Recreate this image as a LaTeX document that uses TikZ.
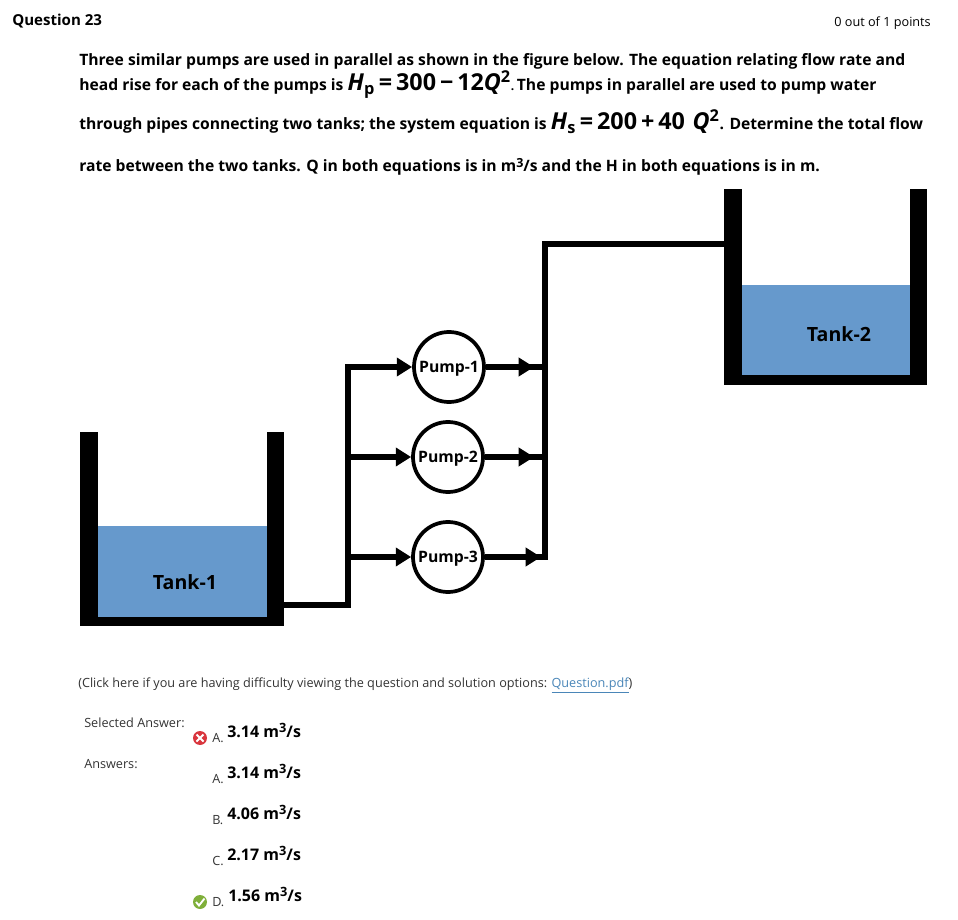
\documentclass[tikz,border=0pt]{standalone}
\usepackage{graphicx}
\usepackage{fontspec}
\setmainfont{Open Sans}
\usetikzlibrary{arrows.meta}
\definecolor{waterblue}{HTML}{6699CC}
\definecolor{linkblue}{HTML}{4A86B8}
\definecolor{wrongred}{HTML}{D9363E}
\definecolor{rightgreen}{HTML}{7FAF3A}
\definecolor{smalltext}{HTML}{333333}
\newcommand{\eqfont}{\fontsize{17.5pt}{19pt}\selectfont}
\newcommand{\cubed}{m\raisebox{0.55ex}{\scalebox{0.8}{3}}/s}
\tikzset{
  textline/.style={anchor=base west,inner sep=0pt,font=\fontsize{11.75pt}{14pt}\selectfont\bfseries},
  smallline/.style={anchor=base west,inner sep=0pt,text=smalltext,font=\fontsize{9.5pt}{11pt}\selectfont},
  optionline/.style={anchor=base west,inner sep=0pt,font=\fontsize{12pt}{14pt}\selectfont\bfseries},
  wall/.style={fill=black,draw=none},
  water/.style={fill=waterblue,draw=none},
  pipe/.style={line width=4.2pt,line cap=butt,line join=miter},
  flow/.style={pipe,-{Triangle[length=11.5pt,width=13.5pt]}},
  pump/.style={circle,draw,fill=white,line width=2.8pt,minimum size=52.5pt,inner sep=0pt,text depth=0pt,font=\fontsize{11.8pt}{13pt}\selectfont\bfseries},
  tanklabel/.style={inner sep=0pt,font=\fontsize{14.7pt}{16pt}\selectfont\bfseries},
  badge/.style={circle,minimum size=10.5pt,inner sep=0pt}
}
\begin{document}
\begin{tikzpicture}[x=0.75pt,y=-0.75pt]
\useasboundingbox (0,0) rectangle (958,920);
% header
\node[textline,font=\fontsize{11.3pt}{14pt}\selectfont\bfseries] (title) at (12,26) {Question 23};
\node[smallline,anchor=base east,text=black] (score) at (931,27) {0 out of 1 points};
% question text
\node[textline] (lineone) at (79,66) {Three similar pumps are used in parallel as shown in the figure below. The equation relating flow rate and};
\node[textline] (linetwo) at (79,91) {head rise for each of the pumps is {\eqfont\textit{H}\textsubscript{p}\,=\,300\,−\,12\textit{Q}\textsuperscript{2}}{\fontsize{9pt}{10pt}\selectfont.}\,The pumps in parallel are used to pump water};
\node[textline] (linethree) at (79,130) {through pipes connecting two tanks; the system equation is {\eqfont\textit{H}\textsubscript{s}\,=\,200\,+\,40\,\,\textit{Q}\textsuperscript{2}}. Determine the total flow};
\node[textline] (linefour) at (79,172) {rate between the two tanks. Q in both equations is in \cubed{} and the H in both equations is in m.};
% tanks
\fill[water] (98,526) rectangle (267,617);
\fill[wall] (80,432) rectangle (98,626);
\fill[wall] (267,432) rectangle (284,626);
\fill[wall] (80,617) rectangle (284,626);
\fill[water] (742,285) rectangle (910,375);
\fill[wall] (724,189) rectangle (742,385);
\fill[wall] (910,189) rectangle (927,385);
\fill[wall] (724,375) rectangle (927,385);
\node[tanklabel] (tankone) at (185,582) {Tank-1};
\node[tanklabel] (tanktwo) at (839,334) {Tank-2};
% pumps
\node[pump] (pumpone) at (449,367) {Pump-1};
\node[pump] (pumptwo) at (448,457) {Pump-2};
\node[pump] (pumpthree) at (448,557) {Pump-3};
% pipe junctions
\coordinate (tankoneout) at (284,605);
\coordinate (tanktwoin) at (724,244);
\coordinate (inone) at (348,367);
\coordinate (intwo) at (348,457);
\coordinate (inthree) at (348,557);
\coordinate (outone) at (545,367);
\coordinate (outtwo) at (545,457);
\coordinate (outthree) at (545,557);
\coordinate (outtop) at (545,244);
% pipes
\draw[flow] (tankoneout) -| (inone) -- (pumpone);
\draw[flow] (intwo) -- (pumptwo);
\draw[flow] (inthree) -- (pumpthree);
\draw[pipe] (pumpone) -- (outone);
\draw[pipe] (pumptwo) -- (outtwo);
\draw[pipe] (pumpthree) -- (outthree) -- (outtop) -- (tanktwoin);
\coordinate (tipone) at (534,367);
\coordinate (tiptwo) at (534,457);
\coordinate (tipthree) at (541,557);
\draw[flow] (pumpone) -- (tipone);
\draw[flow] (pumptwo) -- (tiptwo);
\draw[flow] (pumpthree) -- (tipthree);
% answers
\node[smallline] (clickline) at (78,687) {(Click here if you are having difficulty viewing the question and solution options: \textcolor{linkblue}{\underline{Question.pdf}})};
\node[smallline] (selected) at (84,727) {Selected Answer:};
\node[smallline] (answers) at (84,768) {Answers:};
\node[smallline] (markone) at (212,742) {A.};
\node[optionline] (selone) at (227,737) {3.14 \cubed};
\node[smallline] (marktwo) at (212,783) {A.};
\node[optionline] (optone) at (227,778) {3.14 \cubed};
\node[smallline] (markthree) at (212,824) {B.};
\node[optionline] (opttwo) at (227,819) {4.06 \cubed};
\node[smallline] (markfour) at (212,865) {C.};
\node[optionline] (optthree) at (227,860) {2.17 \cubed};
\node[smallline] (markfive) at (212,906) {D.};
\node[optionline] (optfour) at (228,901) {1.56 \cubed};
% icons
\node[badge,fill=wrongred] (wrong) at (200,738) {};
\draw[white,line width=1.4pt] (196.5,734.5) -- (203.5,741.5) (203.5,734.5) -- (196.5,741.5);
\node[badge,fill=rightgreen] (right) at (200,902) {};
\draw[white,line width=1.4pt] (196,902) -- (199,905.5) -- (204.5,898.5);
\end{tikzpicture}
\end{document}
